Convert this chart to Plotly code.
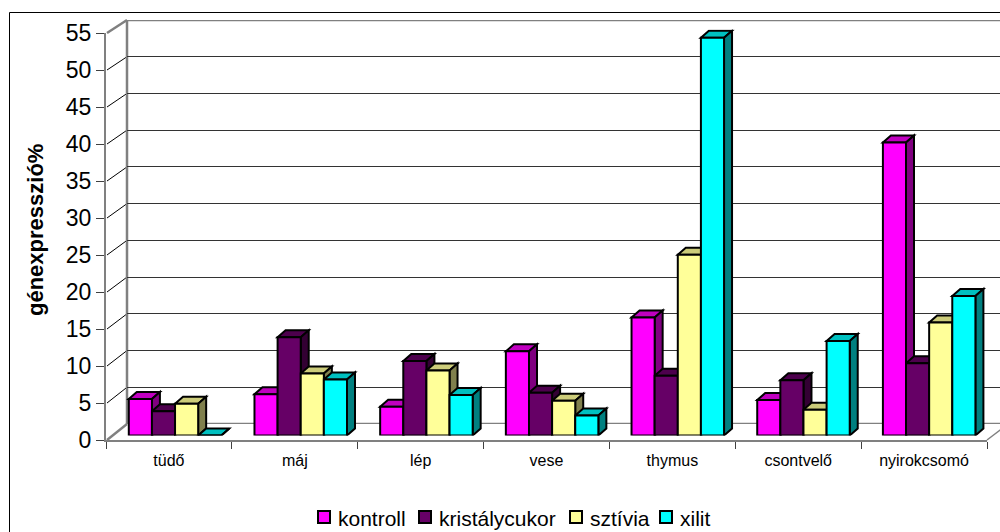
import plotly.graph_objects as go

# Gene expression by organ and diet group
categories = ["tüdő", "máj", "lép", "vese", "thymus", "csontvelő", "nyirokcsomó"]
series_names = ["kontroll", "kristálycukor", "sztívia", "xilit"]
kontroll = [4.95, 5.6, 3.9, 11.4, 16.0, 4.8, 39.7]
kristalycukor = [3.3, 13.3, 10.1, 5.8, 8.1, 7.5, 9.8]
sztivia = [4.3, 8.4, 8.8, 4.7, 24.5, 3.5, 15.3]
xilit = [0.0, 7.6, 5.5, 2.7, 53.9, 12.8, 18.9]
y_ticks = list(range(0, 56, 5))

series_values = [kontroll, kristalycukor, sztivia, xilit]
front_colors = ["#FF00FF", "#660066", "#FFFF99", "#00FFFF"]
top_colors = ["#C000C0", "#4D004D", "#CCCC7A", "#00C0C0"]
side_colors = ["#800080", "#330033", "#80804D", "#008080"]

W, H = 1000, 532
FONT = "Liberation Sans, Arial, sans-serif"


def fx(px):
    return px / W


def fy(py):
    return 1 - py / H


# pixel geometry of the three planes of the pseudo-3D box
BACK_L, BACK_R, BACK_Y0, BACK_Y55 = 127, 1000, 424, 20
FRONT_L, FRONT_R, FRONT_Y0, FRONT_Y55 = 106, 987, 440, 33
BAR_L, BAR_R, BAR_Y0, BAR_Y55 = 112.2, 992, 435.5, 29.6
YMAX = 55
DEPTH_X, DEPTH_Y = 8, 7

# legend row
LEGEND_Y = 517
LEGEND_X = [318, 419, 570, 660]
LEGEND_BOX = 12

n_cat = len(categories)
ppx = (BAR_R - BAR_L) / n_cat
ppy = (BAR_Y0 - BAR_Y55) / YMAX
bar_w = 0.184
group_start = -2 * bar_w


def front_py(v):
    return FRONT_Y0 - (FRONT_Y0 - FRONT_Y55) * v / YMAX


def back_py(v):
    return BACK_Y0 - (BACK_Y0 - BACK_Y55) * v / YMAX


fig = go.Figure()

# empty trace so the front axes are laid out with the category names
fig.add_trace(go.Scatter(x=categories, y=[None] * n_cat, mode="markers",
                         xaxis="x2", yaxis="y2", showlegend=False, hoverinfo="skip"))

# bars on the middle plane (x3 / y3)
for j, (name, vals) in enumerate(zip(series_names, series_values)):
    fig.add_trace(go.Bar(
        x=list(range(n_cat)), y=vals, name=name,
        width=bar_w, offset=group_start + j * bar_w,
        marker=dict(color=front_colors[j], line=dict(color="black", width=2)),
        xaxis="x3", yaxis="y3", hoverinfo="skip", showlegend=False,
    ))

shapes = []
annotations = []

# top and side faces of each bar, anchored on its value
w_px = bar_w * ppx
for j, vals in enumerate(series_values):
    for i, v in enumerate(vals):
        left = i + group_start + j * bar_w
        h = v * ppy
        common = dict(type="path", xref="x3", yref="y3", xsizemode="pixel",
                      ysizemode="pixel", xanchor=left, yanchor=v, layer="below",
                      line=dict(color="black", width=2))
        shapes.append(dict(
            path=f"M0,0 L{w_px:.2f},0 L{w_px + DEPTH_X:.2f},{DEPTH_Y} L{DEPTH_X},{DEPTH_Y} Z",
            fillcolor=top_colors[j], **common))
        shapes.append(dict(
            path=(f"M{w_px:.2f},0 L{w_px + DEPTH_X:.2f},{DEPTH_Y} "
                  f"L{w_px + DEPTH_X:.2f},{DEPTH_Y - h:.2f} L{w_px:.2f},{-h:.2f} Z"),
            fillcolor=side_colors[j], **common))

# side wall lines joining the front axis to the back wall
for v in y_ticks:
    edge = v in (0, YMAX)
    shapes.append(dict(
        type="line", xref="paper", yref="paper", layer="below",
        x0=fx(FRONT_L + 1), y0=fy(front_py(v)), x1=fx(BACK_L), y1=fy(back_py(v)),
        line=dict(color="#808080" if edge else "black", width=2.5 if edge else 1)))
# right floor edge
shapes.append(dict(type="line", xref="paper", yref="paper", layer="below",
                   x0=fx(FRONT_R), y0=fy(FRONT_Y0), x1=fx(FRONT_R + 21), y1=fy(BACK_Y0),
                   line=dict(color="#808080", width=1.5)))
# back wall: left edge, top edge and floor edge
shapes.append(dict(type="line", xref="paper", yref="paper", layer="below",
                   x0=fx(BACK_L), y0=fy(BACK_Y0), x1=fx(BACK_L), y1=fy(BACK_Y55),
                   line=dict(color="#808080", width=2.5)))
for v in (0, YMAX):
    shapes.append(dict(type="line", xref="x", yref="y", layer="below",
                       x0=-0.5, x1=7, y0=v, y1=v,
                       line=dict(color="#808080", width=2.5)))
# chart frame
shapes.append(dict(type="rect", xref="paper", yref="paper", layer="below",
                   x0=fx(9.5), y0=fy(12.5), x1=fx(1010), y1=fy(545),
                   line=dict(color="black", width=1), fillcolor="rgba(0,0,0,0)"))

# legend: coloured boxes with series names
for j, name in enumerate(series_names):
    x0 = LEGEND_X[j]
    shapes.append(dict(type="rect", xref="paper", yref="paper",
                       x0=fx(x0), x1=fx(x0 + LEGEND_BOX),
                       y0=fy(LEGEND_Y + LEGEND_BOX / 2), y1=fy(LEGEND_Y - LEGEND_BOX / 2),
                       fillcolor=front_colors[j], line=dict(color="black", width=2)))
    annotations.append(dict(text=name, xref="paper", yref="paper",
                            x=fx(x0 + LEGEND_BOX + 6), y=fy(LEGEND_Y + 1),
                            xanchor="left", yanchor="middle", showarrow=False,
                            font=dict(size=21, family=FONT, color="black")))

annotations.append(dict(text="<b>génexpresszió%</b>", xref="paper", yref="paper",
                        x=fx(36), y=fy(230), textangle=-90, showarrow=False,
                        font=dict(size=22, family=FONT, color="black"),
                        xanchor="center", yanchor="middle"))

fig.update_layout(
    width=W, height=H,
    margin=dict(l=0, r=0, t=0, b=0, autoexpand=False),
    paper_bgcolor="white", plot_bgcolor="rgba(0,0,0,0)",
    barmode="overlay",
    font=dict(family=FONT, color="black"),
    shapes=shapes,
    annotations=annotations,
    showlegend=False,
    # back wall gridlines
    xaxis=dict(domain=[fx(BACK_L), 1.0], range=[-0.5, 6.5 + (BACK_R - BACK_L - (FRONT_R - FRONT_L)) / ppx],
               visible=False, fixedrange=True),
    yaxis=dict(domain=[fy(BACK_Y0), fy(BACK_Y55)], range=[0, YMAX], dtick=5, tick0=0,
               showgrid=True, gridcolor="#333333", gridwidth=1, zeroline=False,
               showline=False, showticklabels=False, ticks="", anchor="x", fixedrange=True),
    # front axes with ticks and labels
    xaxis2=dict(domain=[fx(FRONT_L), fx(FRONT_R)], type="category", range=[-0.5, 6.5],
                categoryorder="array", categoryarray=categories,
                tickson="boundaries", ticks="outside", ticklen=7, tickcolor="#404040",
                showline=True, linecolor="#808080", linewidth=2, showgrid=False,
                tickfont=dict(size=16, family=FONT), ticklabelstandoff=5,
                anchor="y2", fixedrange=True, automargin=False),
    yaxis2=dict(domain=[fy(FRONT_Y0), fy(FRONT_Y55)], range=[0, YMAX],
                tickmode="array", tickvals=y_ticks, ticks="outside", ticklen=8,
                tickcolor="#404040", showline=True, linecolor="#808080", linewidth=2,
                showgrid=False, zeroline=False, tickfont=dict(size=23, family=FONT),
                anchor="x2", fixedrange=True, automargin=False),
    # bar plane
    xaxis3=dict(domain=[fx(BAR_L), fx(BAR_R)], range=[-0.5, 6.5], visible=False,
                anchor="y3", fixedrange=True),
    yaxis3=dict(domain=[fy(BAR_Y0), fy(BAR_Y55)], range=[0, YMAX], visible=False,
                anchor="x3", fixedrange=True),
)

fig.write_html("out.html")
